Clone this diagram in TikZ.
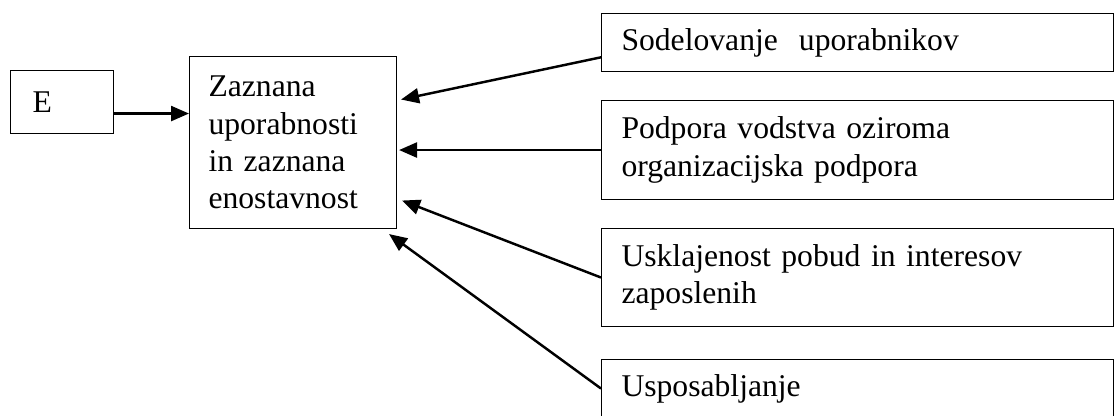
\documentclass[tikz,border=0pt]{standalone}
\usepackage{fontspec}
\setmainfont{Liberation Serif}
\usetikzlibrary{arrows.meta,calc}

\begin{document}
\begin{tikzpicture}[
    box/.style={draw,line width=.6pt,anchor=north west,align=left,inner ysep=0pt,
      font=\fontsize{18}{21.3}\selectfont},
    side/.style={box,text width=9.44cm,inner xsep=.4cm},
    arr/.style={line width=1.4pt,-{Triangle[length=.36cm,width=.3cm]}}]
  \useasboundingbox (0,0) rectangle (22.3,-8.3);
  \node[box,text width=1.18cm,inner xsep=.44cm,minimum height=1.26cm] (e) at (.2,-1.4) {E};
  \node[box,text width=3.38cm,inner xsep=.38cm,minimum height=3.44cm] (zaz) at (3.78,-1.12)
    {Zaznana\\uporabnosti\\in zaznana\\enostavnost};
  \node[side,minimum height=1.16cm] (sodel) at (12.02,-.26) {Sodelovanje\ \ uporabnikov};
  \node[side,minimum height=1.98cm] (podpora) at (12.02,-2) {Podpora vodstva oziroma\\organizacijska podpora};
  \node[side,minimum height=1.96cm] (uskl) at (12.02,-4.56) {Usklajenost pobud in interesov\\zaposlenih};
  \node[side,minimum height=1.16cm] (uspos) at (12.02,-7.18) {Usposabljanje};
  \draw[arr] ($(e.east)+(0,-.23)$) coordinate (ea) -- (ea -| zaz.west);
  \draw[arr] ($(sodel.west)!.5!(sodel.south west)$) -- ($(zaz.east)+(.08,.86)$);
  \draw[arr] (podpora.west) -- ($(podpora.west -| zaz.east)+(.04,0)$);
  \draw[arr] (uskl.west) -- ($(zaz.east)+(.1,-1.16)$);
  \draw[arr] (uspos.west) -- ($(zaz.south east)+(-.16,-.1)$);
\end{tikzpicture}
\end{document}
